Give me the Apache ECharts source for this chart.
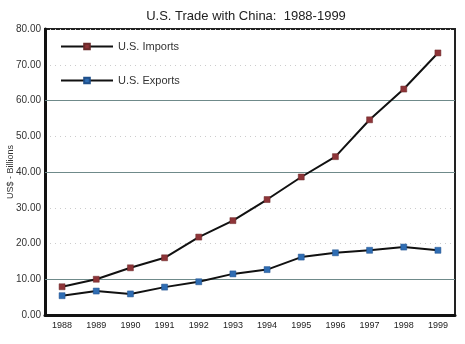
<!DOCTYPE html>
<html>
<head>
<meta charset="utf-8">
<script src="https://cdn.jsdelivr.net/npm/echarts@6/dist/echarts.min.js"></script>
<style>html,body{margin:0;padding:0;background:#fff}#c{width:465px;height:344px}</style>
</head>
<body>
<div id="c"></div>
<script>
const years = ['1988','1989','1990','1991','1992','1993','1994','1995','1996','1997','1998','1999'];
const imports = [7.9, 10.0, 13.2, 16.0, 21.8, 26.4, 32.3, 38.6, 44.3, 54.6, 63.2, 73.3];
const exports = [5.4, 6.7, 5.9, 7.8, 9.3, 11.5, 12.7, 16.2, 17.4, 18.1, 19.0, 18.1];
const solidGrid = [10, 40, 60];
const font = 'Liberation Sans, Arial, sans-serif';

const chart = echarts.init(document.getElementById('c'), null, {renderer: 'canvas'});
chart.setOption({
  animation: false,
  title: {
    text: 'U.S. Trade with China:  1988-1999',
    left: 241, top: 5, textAlign: 'center',
    textStyle: {fontFamily: font, fontSize: 13, fontWeight: 'normal', color: '#222'}
  },
  legend: {
    orient: 'vertical', left: 55, top: 36, itemWidth: 52, itemHeight: 7, itemGap: 23,
    textStyle: {fontFamily: font, fontSize: 11, color: '#333'},
    data: ['U.S. Imports', 'U.S. Exports']
  },
  grid: {left: 45, right: 10, top: 29, bottom: 29, show: true, borderColor: '#222', borderWidth: 2,
         outerBoundsMode: 'none', containLabel: false},
  xAxis: {
    type: 'category', data: years, boundaryGap: true,
    axisLine: {lineStyle: {color: '#111', width: 3}},
    axisTick: {inside: true, length: 6, lineStyle: {color: '#aaa'}},
    axisLabel: {fontFamily: font, fontSize: 9, color: '#222', margin: 6}
  },
  yAxis: {
    type: 'value', min: 0, max: 80, interval: 10,
    name: 'US$ - Billions', nameLocation: 'middle', nameGap: 30, nameMoveOverlap: false,
    nameTextStyle: {fontFamily: font, fontSize: 9, color: '#333'},
    axisLine: {show: true, lineStyle: {color: '#111', width: 3}},
    axisTick: {show: false},
    axisLabel: {fontFamily: font, fontSize: 10, color: '#333', margin: 4, formatter: v => v.toFixed(2)},
    splitLine: {lineStyle: {color: '#ccc', type: [1, 4], width: 1}}
  },
  series: [
    {
      name: 'U.S. Imports', type: 'line', data: imports,
      symbol: 'rect', symbolSize: 6,
      lineStyle: {color: '#111', width: 2},
      itemStyle: {color: '#8e3438', borderColor: '#6a2a2a', borderWidth: 0.5},
      z: 3,
      markLine: {
        silent: true, symbol: 'none', label: {show: false},
        lineStyle: {color: '#6f8a8a', type: 'solid', width: 1},
        data: solidGrid.map(v => ({yAxis: v})), z: 1
      }
    },
    {
      name: 'U.S. Exports', type: 'line', data: exports,
      symbol: 'rect', symbolSize: 6,
      lineStyle: {color: '#111', width: 2},
      itemStyle: {color: '#2f6db3', borderColor: '#1f4f8a', borderWidth: 0.5},
      z: 3
    }
  ]
});
</script>
</body>
</html>
